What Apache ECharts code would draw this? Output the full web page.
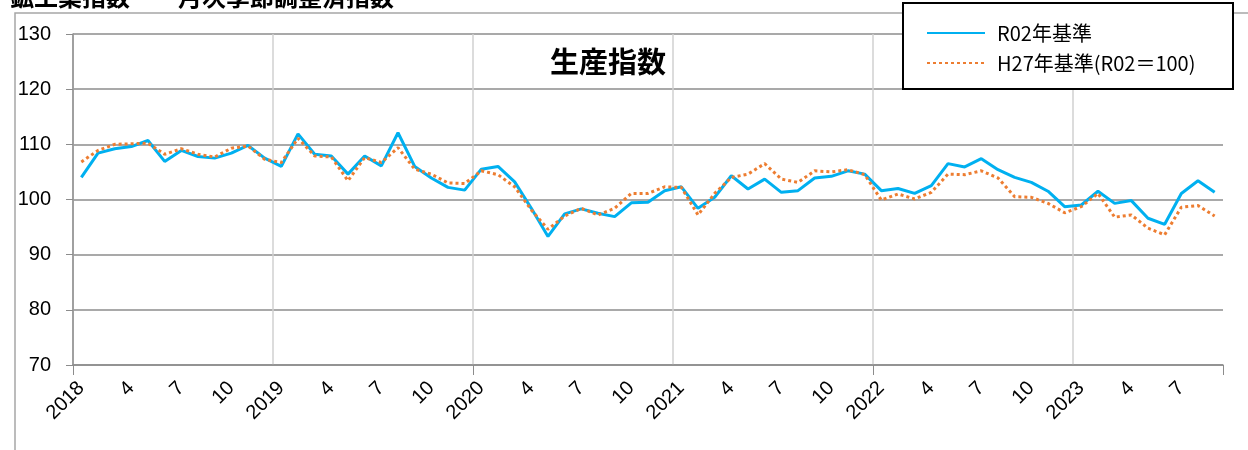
<!DOCTYPE html>
<html>
<head>
<meta charset="utf-8">
<script src="https://cdn.jsdelivr.net/npm/echarts@6/dist/echarts.min.js"></script>
<style>
  html, body { margin: 0; padding: 0; background: #fff; }
  #chart { width: 1248px; height: 450px; }
</style>
</head>
<body>
<div id="chart"></div>
<script>
// months Jan 2018 .. Sep 2023
const years = ['2018', '2019', '2020', '2021', '2022', '2023']
const lastMonth = 9

// R02 base (blue, solid)
const r02Values = [
  104.0, 108.4, 109.2, 109.6, 110.7, 106.9, 108.9, 107.8, 107.5, 108.4, 109.8, 107.5,
  106.0, 111.9, 108.2, 107.9, 104.6, 107.9, 106.1, 112.1, 106.0, 103.9, 102.2, 101.7,
  105.5, 106.0, 103.2, 98.4, 93.3, 97.4, 98.3, 97.5, 96.9, 99.4, 99.5, 101.6,
  102.3, 98.4, 100.4, 104.3, 101.9, 103.7, 101.3, 101.6, 103.9, 104.2, 105.2, 104.6,
  101.6, 102.0, 101.1, 102.5, 106.5, 105.9, 107.4, 105.4, 104.0, 103.1, 101.5, 98.7,
  99.0, 101.5, 99.3, 99.8, 96.6, 95.5, 101.1, 103.4, 101.3
]

// H27 base rebased to R02 = 100 (orange, dotted)
const h27Values = [
  106.8, 108.9, 110.0, 110.1, 110.2, 108.2, 109.2, 108.2, 107.7, 109.3, 109.7, 107.3,
  106.7, 111.1, 107.9, 107.7, 103.4, 107.6, 106.7, 109.4, 105.5, 104.6, 103.0, 102.9,
  105.2, 104.5, 102.3, 98.1, 94.6, 97.0, 98.4, 97.2, 98.4, 101.1, 101.1, 102.3,
  102.2, 97.2, 101.1, 104.0, 104.6, 106.5, 103.7, 103.1, 105.2, 105.0, 105.4, 104.5,
  99.9, 101.0, 100.1, 101.3, 104.6, 104.5, 105.2, 103.9, 100.5, 100.4, 99.3, 97.6,
  98.7, 101.1, 96.8, 97.2, 94.8, 93.6, 98.6, 98.9, 97.0
]

const seriesNames = ['R02年基準', 'H27年基準(R02＝100)']

const categories = []
years.forEach((y, yi) => {
  const n = yi === years.length - 1 ? lastMonth : 12
  for (let m = 1; m <= n; m++) {
    categories.push(m === 1 ? y : String(m))
  }
})

const chart = echarts.init(document.getElementById('chart'))

chart.setOption({
  backgroundColor: '#fff',
  animation: false,
  textStyle: { fontFamily: 'Liberation Sans, Noto Sans CJK JP, sans-serif' },
  grid: {
    left: 73,
    right: 25,
    top: 34,
    bottom: 85
  },
  graphic: [
    {
      type: 'polyline',
      z: 0,
      shape: { points: [[15, 460], [15, 13], [1260, 13]] },
      style: { stroke: '#a6a6a6', lineWidth: 1.5, fill: null }
    },
    {
      type: 'text',
      left: 10,
      top: -15,
      z: 5,
      style: {
        text: '鉱工業指数　－月次季節調整済指数－',
        fontSize: 24,
        fontWeight: 'bold',
        fontFamily: 'Noto Sans CJK JP',
        fill: '#000'
      }
    },
    {
      type: 'text',
      z: 5,
      style: {
        x: 608,
        y: 62,
        text: '生産指数',
        textAlign: 'center',
        textVerticalAlign: 'middle',
        fontSize: 29,
        fontWeight: 'bold',
        fontFamily: 'Noto Sans CJK JP',
        fill: '#000'
      }
    },
    {
      type: 'rect',
      z: 10,
      shape: { x: 903, y: 3, width: 330, height: 86 },
      style: { fill: '#fff', stroke: '#000', lineWidth: 2 }
    }
  ],
  legend: {
    data: seriesNames,
    orient: 'vertical',
    left: 926,
    top: 23,
    z: 11,
    itemWidth: 58,
    itemHeight: 14,
    itemGap: 10,
    padding: 0,
    itemStyle: { opacity: 0 },
    textStyle: {
      fontSize: 20,
      fontFamily: 'Noto Sans CJK JP',
      color: '#000',
      padding: [0, 0, 0, 7]
    }
  },
  xAxis: {
    type: 'category',
    boundaryGap: true,
    data: categories,
    axisLine: { lineStyle: { color: '#8c8c8c', width: 1.5 } },
    axisTick: {
      show: true,
      length: 10,
      interval: (i) => i % 24 === 0,
      lineStyle: { color: '#8c8c8c' }
    },
    axisLabel: {
      interval: 2,
      rotate: 45,
      margin: 20,
      fontSize: 20,
      color: '#000'
    },
    splitLine: {
      show: true,
      interval: (i) => i % 12 === 0,
      showMaxLine: false,
      lineStyle: { color: '#d0d0d0', width: 1.5 }
    }
  },
  yAxis: {
    type: 'value',
    min: 70,
    max: 130,
    interval: 10,
    axisLine: { show: true, lineStyle: { color: '#8c8c8c', width: 1.5 } },
    axisTick: { show: true, length: 7, lineStyle: { color: '#8c8c8c' } },
    axisLabel: { margin: 22, fontSize: 20, color: '#000' },
    splitLine: { lineStyle: { color: '#8c8c8c', width: 1.5 } }
  },
  series: [
    {
      name: seriesNames[0],
      type: 'line',
      data: r02Values,
      symbol: 'none',
      z: 2,
      lineStyle: { color: '#00b0f0', width: 3 },
      itemStyle: { color: '#00b0f0' }
    },
    {
      name: seriesNames[1],
      type: 'line',
      data: h27Values,
      symbol: 'none',
      z: 3,
      lineStyle: { color: '#ed7d31', width: 3, type: [3, 3] },
      itemStyle: { color: '#ed7d31' }
    }
  ]
})
</script>
</body>
</html>
